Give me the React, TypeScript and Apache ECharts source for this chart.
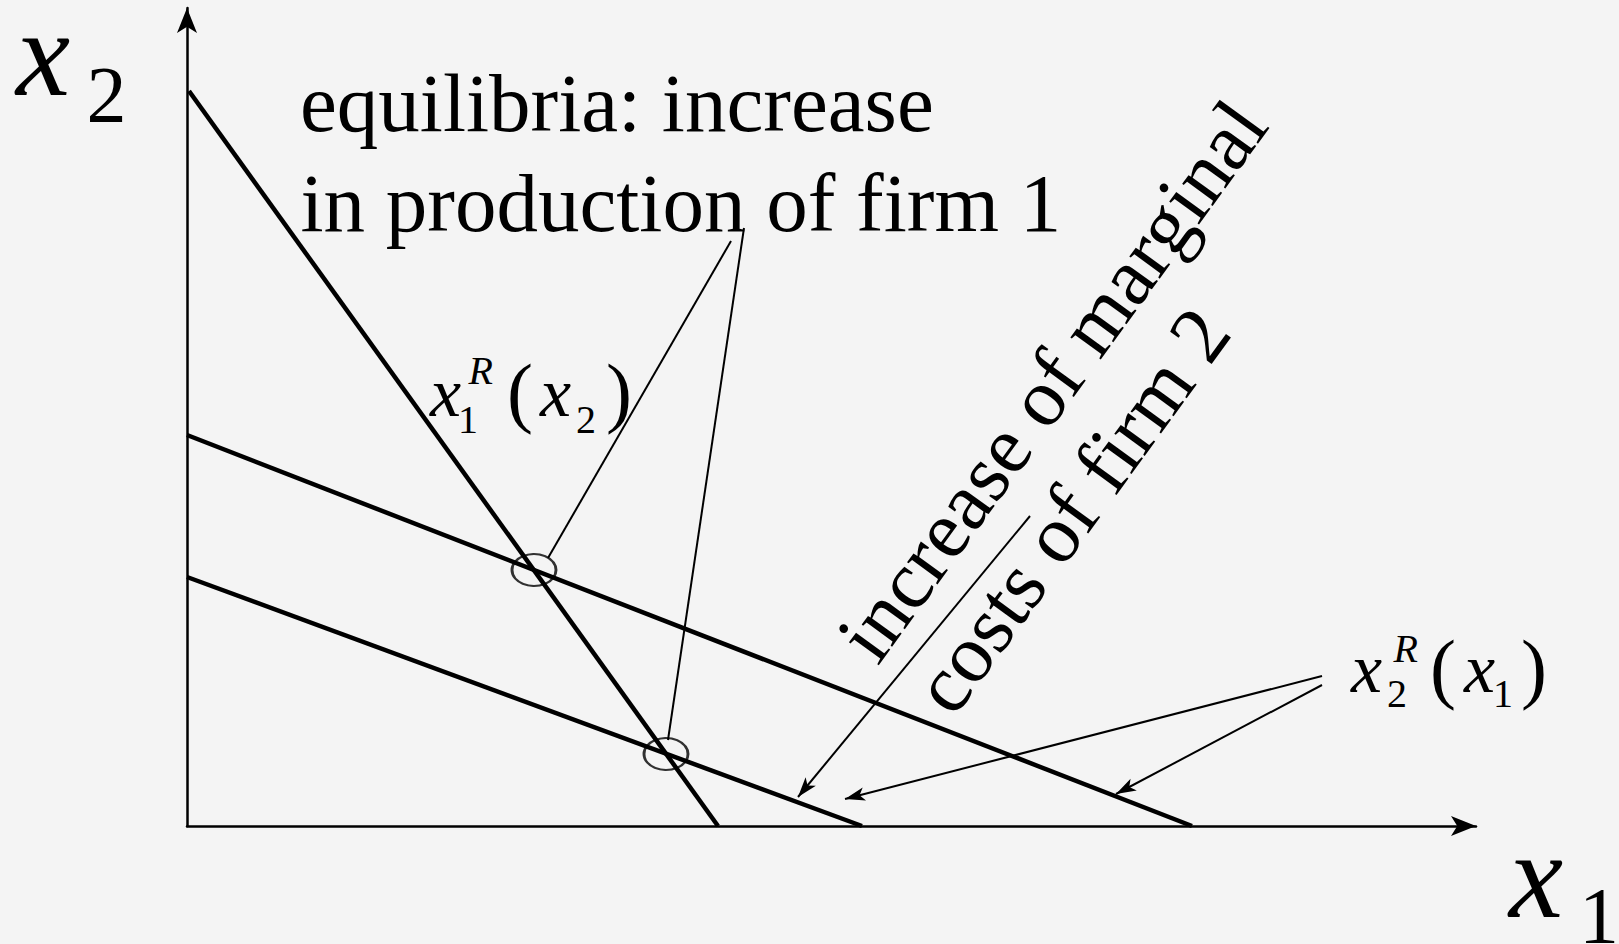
import React, { useEffect, useRef } from 'react';
import * as echarts from 'echarts';

const SERIF = '"Liberation Serif", "Times New Roman", serif';

// Data in chart units (x1 horizontal, x2 vertical)
const reactionFirm1 = [[0.2, 73.5], [53.1, 0]]; // x1^R(x2)
const reactionFirm2Before = [[0, 39.1], [100.5, 0]]; // x2^R(x1) before cost increase
const reactionFirm2After = [[0, 24.9], [67.5, 0]]; // x2^R(x1) after cost increase
const equilibria = [[34.7, 25.6], [47.9, 7.2]];
const equilibriumPointers = [
  [[54.4, 58.5], [36.1, 26.8]],
  [[55.7, 59.8], [48.1, 8.6]],
];
const costArrow = [[[84.3, 31.0], [61.1, 2.9]]];
const reactionArrows = [
  [[113.5, 15.0], [65.8, 2.7]],
  [[113.5, 14.1], [92.9, 3.2]],
];
const xAxisMax = 128.9;
const yAxisMax = 81.8;

const BASE = 0.34;

function txt(text: string, x: number, baseline: number, size: number, italic = false, rotDeg = 0) {
  return {
    type: 'text',
    x,
    y: baseline,
    rotation: (rotDeg * Math.PI) / 180,
    silent: true,
    style: {
      text,
      x: 0,
      y: -BASE * size,
      font: `${italic ? 'italic ' : ''}${size}px ${SERIF}`,
      fill: '#000',
      align: 'left',
      verticalAlign: 'middle',
    },
  };
}

export default function App() {
  const ref = useRef<HTMLDivElement>(null);
  useEffect(() => {
    const chart = echarts.init(ref.current!, null, { renderer: 'svg' });
    const thin = { color: '#000', width: 2, opacity: 1, curveness: 0 };
    const thick = { color: '#000', width: 4.5 };
    chart.setOption({
      animation: false,
      backgroundColor: '#f4f4f4',
      grid: { left: 187, top: 8, right: 143, bottom: 118 },
      xAxis: {
        type: 'value', min: 0, max: xAxisMax,
        axisLine: { lineStyle: { color: '#000', width: 2.5 }, symbol: ['none', 'arrow'], symbolSize: [15, 25] },
        axisTick: { show: false }, axisLabel: { show: false }, splitLine: { show: false },
      },
      yAxis: {
        type: 'value', min: 0, max: yAxisMax,
        axisLine: { lineStyle: { color: '#000', width: 2.5 }, symbol: ['none', 'arrow'], symbolSize: [15, 25] },
        axisTick: { show: false }, axisLabel: { show: false }, splitLine: { show: false },
      },
      series: [
        { type: 'line', data: reactionFirm1, symbol: 'none', silent: true, lineStyle: thick },
        { type: 'line', data: reactionFirm2Before, symbol: 'none', silent: true, lineStyle: thick },
        { type: 'line', data: reactionFirm2After, symbol: 'none', silent: true, lineStyle: thick },
        {
          type: 'lines', coordinateSystem: 'cartesian2d', silent: true,
          data: equilibriumPointers.map((c) => ({ coords: c })),
          symbol: ['none', 'none'], lineStyle: thin,
        },
        {
          type: 'lines', coordinateSystem: 'cartesian2d', silent: true,
          data: [...costArrow, ...reactionArrows].map((c) => ({ coords: c })),
          symbol: ['none', 'arrow'], symbolSize: [0, [10, 20]], lineStyle: thin,
        },
        {
          type: 'scatter', data: equilibria, symbol: 'circle', symbolSize: [44, 32], silent: true,
          itemStyle: { color: 'rgba(0,0,0,0)', borderColor: '#000', borderWidth: 2.5 },
        },
      ],
      graphic: [
        txt('x', 16, 95, 122, true),
        txt('2', 86.6, 121.7, 80),
        txt('x', 1509, 916.7, 122, true),
        txt('1', 1579, 943.3, 80),
        txt('equilibria: increase', 300, 131.7, 83),
        txt('in production of firm 1', 300.5, 231.7, 83),
        txt('increase of marginal', 878, 667, 82, false, 54),
        txt('costs of firm 2', 954, 719, 82, false, 54),
        // x1^R(x2)
        txt('x', 430, 416, 70, true),
        txt('1', 458, 433, 40),
        txt('R', 468.5, 384, 40, true),
        txt('(', 507, 418, 78),
        txt('x', 540, 416, 70, true),
        txt('2', 576, 433, 40),
        txt(')', 606, 418, 78),
        // x2^R(x1)
        txt('x', 1351, 692, 70, true),
        txt('2', 1387, 707, 40),
        txt('R', 1393.5, 662, 40, true),
        txt('(', 1430, 694, 78),
        txt('x', 1464, 692, 70, true),
        txt('1', 1493, 707, 40),
        txt(')', 1521, 694, 78),
      ],
    });
    return () => chart.dispose();
  }, []);
  return <div ref={ref} style={{ position: 'fixed', left: 0, top: 0, width: 1619, height: 944 }} />;
}
